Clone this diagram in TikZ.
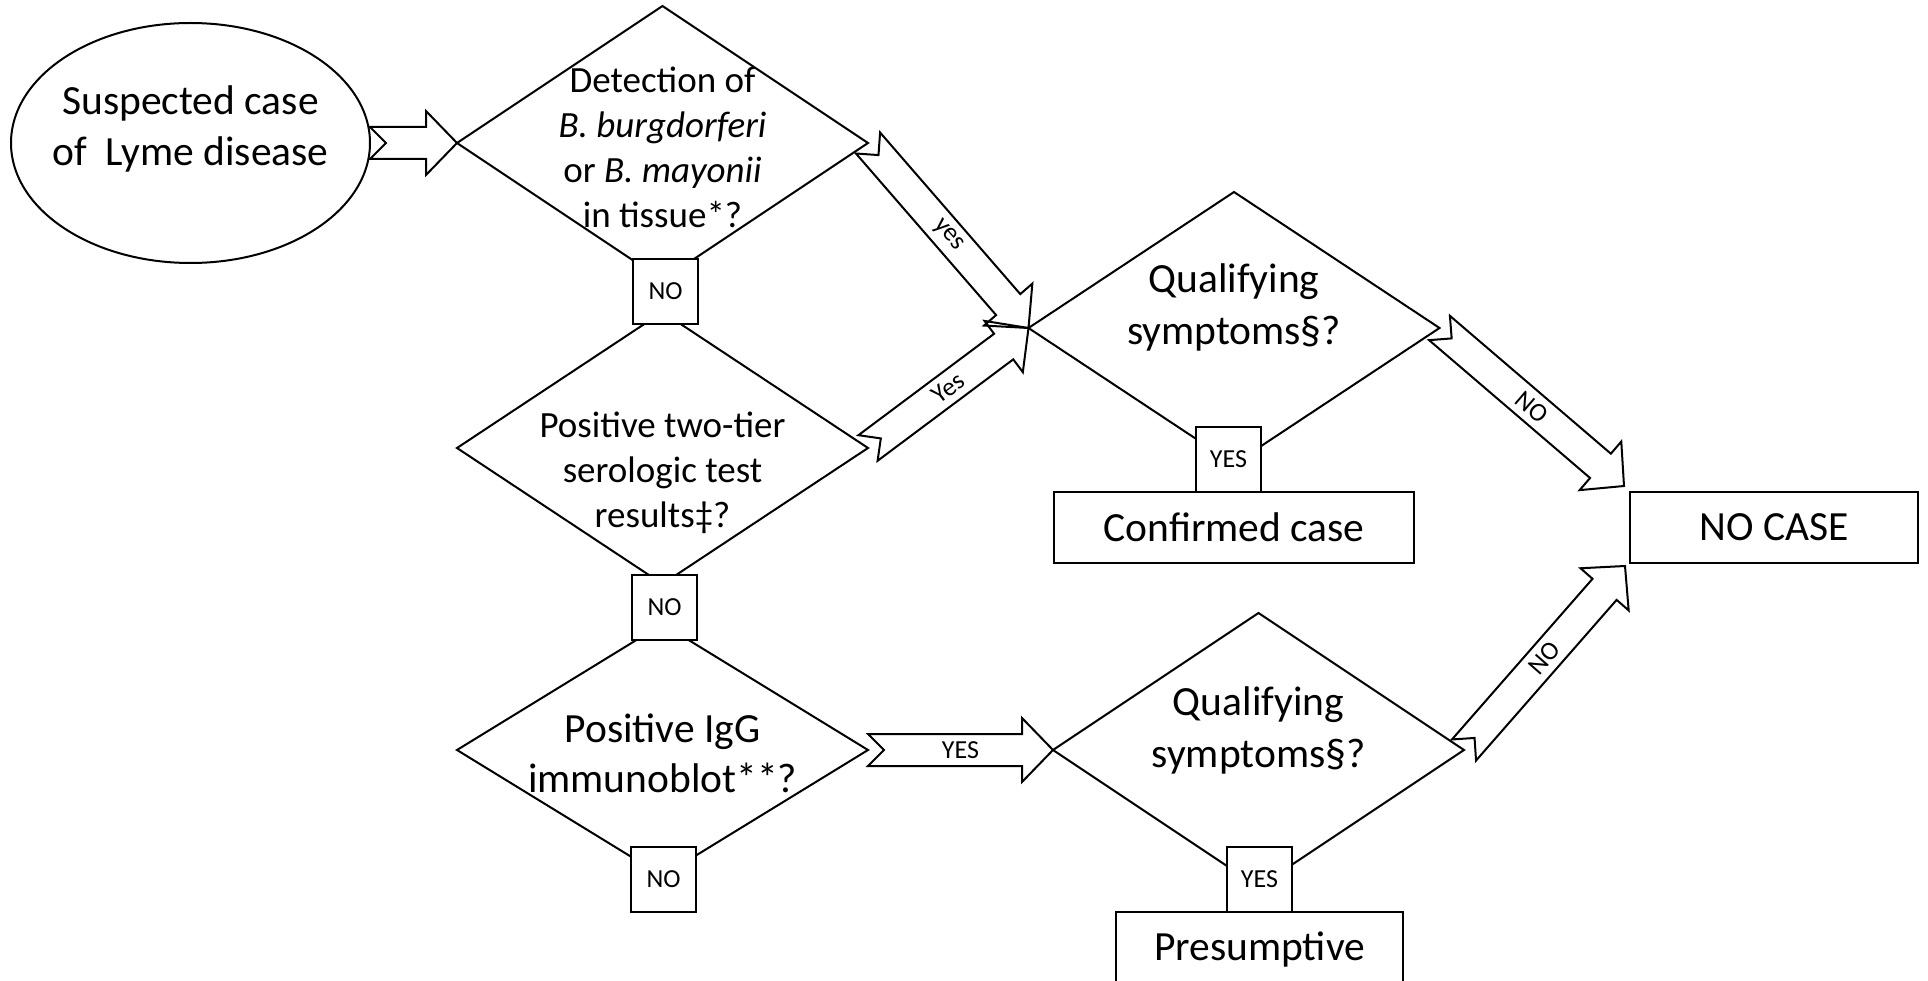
\documentclass[tikz,border=0pt]{standalone}
\usepackage{fontspec}
\setmainfont{Carlito}
\usetikzlibrary{calc,shapes.geometric}
% notched block arrow from (#1) to (#2)
\def\blockarrow(#1)(#2){\draw let \p1=($(#2)-(#1)$), \n1={atan2(\y1,\x1)} in
    ($(#1)+({\n1+90}:16pt)$) -- ($(#2)+(\n1:-31pt)+({\n1+90}:16pt)$)
    -- ($(#2)+(\n1:-31pt)+({\n1+90}:32pt)$) -- (#2)
    -- ($(#2)+(\n1:-31pt)+({\n1-90}:32pt)$) -- ($(#2)+(\n1:-31pt)+({\n1-90}:16pt)$)
    -- ($(#1)+({\n1-90}:16pt)$) -- ($(#1)+(\n1:16pt)$) -- cycle;}
% text along such an arrow
\def\arrowlabel(#1)(#2)#3#4{\path let \p1=($(#2)-(#1)$), \n1={atan2(\y1,\x1)} in
    node[arrowtext, rotate=\n1] (#3) at ($(#1)!0.5!(#2)$) {#4};}

\begin{document}
\begin{tikzpicture}[x=1pt, y=-1pt, line width=2pt,
    every node/.style={inner sep=0pt, outer sep=0pt},
    question/.style={draw, diamond, minimum width=411, minimum height=274},
    answer/.style={draw, fill=white, minimum width=65, minimum height=65, font=\fontsize{26}{31}\selectfont},
    result/.style={draw, minimum height=71, font=\fontsize{41.5}{51}\selectfont},
    bigtext/.style={align=center, anchor=base, font=\fontsize{41.5}{51}\selectfont},
    smalltext/.style={align=center, anchor=base, font=\fontsize{37}{45}\selectfont},
    arrowtext/.style={font=\fontsize{26}{31}\selectfont}]
		\useasboundingbox (0,0) rectangle (1928,981);
		\clip (0,0) rectangle (1928,981);
		%%%%% START %%%%%
		
		\node[draw, ellipse, minimum width=359, minimum height=240] (susp) at (190.5,143) {};
		\node[bigtext] (susptxt) at (190.5,166) {Suspected case\\of\ \ Lyme disease};
		
		\node[question] (d1) at (662.5,143) {};
		\node[smalltext] (d1txt) at (662.5,228) {Detection of\\\textit{B. burgdorferi}\\or \textit{B. mayonii}\\in tissue*?};
		
		\node[question, minimum height=272] (d2) at (662.5,448) {};
		\node[smalltext] (d2txt) at (662.5,527) {Positive two-tier\\serologic test\\results‡?};
		
		\node[question, minimum height=252] (d3) at (662.5,750) {};
		\node[bigtext, font=\fontsize{41.5}{50}\selectfont] (d3txt) at (662.5,792) {Positive IgG\\immunoblot**?};
		
		\node[question, minimum height=272] (d5) at (1234,328) {};
		\node[bigtext, font=\fontsize{41.5}{52}\selectfont] (d5txt) at (1234,345) {Qualifying\\symptoms§?};
		
		\node[question] (d4) at (1258.5,750) {};
		\node[bigtext, font=\fontsize{41.5}{52}\selectfont] (d4txt) at (1258.5,767) {Qualifying\\symptoms§?};
		
		\node[result, minimum width=360] (conf) at (1234,527.5) {Confirmed case};
		\node[result, minimum width=288, anchor=west] (nocase) at (1630,527.5) {NO CASE};
		\node[draw, minimum width=287, minimum height=100, anchor=north] (pres) at (1259.5,912) {};
		\node[bigtext] (prestxt) at (1259.5,960) {Presumptive};
		
		\coordinate (hit1) at ($(nocase.north west)+(-6,-6)$);
		\coordinate (hit2) at ($(nocase.south west)+(-5,3)$);
		
		\blockarrow(susp.east)(d1.west)
		\blockarrow(d1.east)(d5.west)
		\arrowlabel(d1.east)(d5.west){lyes1}{yes}
		\blockarrow(d2.east)(d5.west)
		\arrowlabel(d2.east)(d5.west){lyes2}{Yes}
		\blockarrow(d3.east)(d4.west)
		\arrowlabel(d3.east)(d4.west){lyes3}{YES}
		\blockarrow(d5.east)(hit1)
		\arrowlabel(d5.east)(hit1){lno1}{NO}
		\blockarrow(d4.east)(hit2)
		\arrowlabel(d4.east)(hit2){lno2}{NO}
		
		\node[answer] (no1) at (665.5,291.5) {NO};
		\node[answer] (no2) at (664.5,607.5) {NO};
		\node[answer] (no3) at (663.5,879) {NO};
		\node[answer] (yes1) at (1228.5,459.5) {YES};
		\node[answer] (yes2) at (1259.5,879) {YES};
		
		%%%%% END %%%%%
	\end{tikzpicture}
\end{document}
